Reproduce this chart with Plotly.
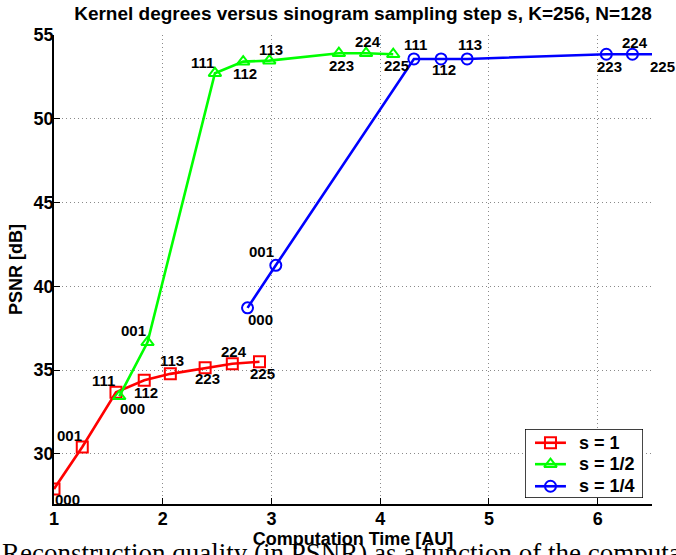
import plotly.graph_objects as go

# ---- data ----
labels = ["000", "001", "111", "112", "113", "223", "224", "225"]

time_s1 = [1.00, 1.26, 1.57, 1.83, 2.07, 2.39, 2.64, 2.89]
psnr_s1 = [27.9, 30.4, 33.67, 34.39, 34.77, 35.13, 35.37, 35.49]

time_s2 = [1.60, 1.86, 2.48, 2.74, 2.98, 3.62, 3.87, 4.12]
psnr_s2 = [33.43, 36.65, 52.72, 53.41, 53.47, 53.91, 53.91, 53.85]

time_s4 = [2.78, 3.04, 4.31, 4.56, 4.80, 6.08, 6.32, 6.57]
psnr_s4 = [38.71, 41.25, 53.57, 53.57, 53.57, 53.85, 53.85, 53.85]

series_names = ["s = 1", "s = 1/2", "s = 1/4"]

x_ticks = [1, 2, 3, 4, 5, 6]
y_ticks = [30, 35, 40, 45, 50, 55]

title_text = "Kernel degrees versus sinogram sampling step s, K=256, N=128"
x_title = "Computation Time [AU]"
y_title = "PSNR [dB]"
caption = "Reconstruction quality (in PSNR) as a function of the computation time"

# ---- styles ----
X_RANGE = [1, 6.5]
Y_RANGE = [27, 55]
colors = ["#ff0000", "#00ff00", "#0000ff"]
symbols = ["square-open", "triangle-up-open", "circle-open"]

# label pixel offsets (dx, dy) for each label; dy>0 means downwards
off_s1 = [(13, 11), (-13, -12), (-12, -12), (2, 12), (2, -13), (2, 11), (2, -12), (3, 12)]
off_s2 = [(13, 12), (-14, -12), (-12, -11), (2, 12), (2, -11), (3, 12), (2, -12), (3, 11)]
off_s4 = [(13, 12), (-14, -14), (2, -14), (3, 11), (3, -14), (3, 12), (3, -12), (3, 12)]

FONT = "Liberation Sans, Arial, Helvetica, sans-serif"
MARKER_SIZE = 11
LINE_W = 2.6

# legend box (in paper fractions of the plot area) and row layout inside it
LEG_X = [0.7876, 0.985]
LEG_Y = [0.0128, 0.160]
LEG_ROWS = [0.80, 0.49, 0.17]
LEG_LINE = [0.085, 0.347]
LEG_TEXT_X = 0.44

fig = go.Figure()
series = [(time_s1, psnr_s1, off_s1), (time_s2, psnr_s2, off_s2), (time_s4, psnr_s4, off_s4)]
for (xs, ys, _), name, c, sym in zip(series, series_names, colors, symbols):
    fig.add_trace(go.Scatter(
        x=xs, y=ys, name=name, mode="lines+markers", showlegend=False,
        line=dict(color=c, width=LINE_W),
        marker=dict(symbol=sym, size=MARKER_SIZE, color=c, line=dict(color=c, width=2)),
    ))

# legend samples drawn in a small overlay subplot
annotations = []
for name, c, sym, ry in zip(series_names, colors, symbols, LEG_ROWS):
    fig.add_trace(go.Scatter(
        x=LEG_LINE, y=[ry, ry], mode="lines", showlegend=False, hoverinfo="skip",
        line=dict(color=c, width=LINE_W), xaxis="x2", yaxis="y2"))
    fig.add_trace(go.Scatter(
        x=[sum(LEG_LINE) / 2], y=[ry], mode="markers", showlegend=False, hoverinfo="skip",
        marker=dict(symbol=sym, size=MARKER_SIZE, color=c, line=dict(color=c, width=2)),
        xaxis="x2", yaxis="y2"))
    annotations.append(dict(
        x=LEG_TEXT_X, y=ry, xref="x2", yref="y2", text=name, showarrow=False,
        xanchor="left", yanchor="middle",
        font=dict(family=FONT, size=18, color="black", weight="bold")))

for xs, ys, offs in series:
    for xv, yv, lab, (dx, dy) in zip(xs, ys, labels, offs):
        if X_RANGE[0] <= xv <= X_RANGE[1]:
            xref, xpos = "x", xv
        else:
            xref, xpos = "paper", (xv - X_RANGE[0]) / (X_RANGE[1] - X_RANGE[0])
        annotations.append(dict(
            x=xpos, y=yv, xref=xref, yref="y", text=lab, showarrow=False,
            xshift=dx, yshift=-dy, xanchor="center", yanchor="middle",
            font=dict(family=FONT, size=15, color="black", weight="bold"),
        ))

annotations.append(dict(
    x=-0.09, y=0, xref="paper", yref="paper", text=caption, showarrow=False,
    xanchor="left", yanchor="top", yshift=-32,
    font=dict(family="Liberation Serif, Times New Roman, serif", size=27, color="black"),
))

axis_common = dict(
    showline=True, linecolor="black", linewidth=1.5,
    ticks="inside", ticklen=6, tickcolor="black", tickwidth=1.2,
    showgrid=True, gridcolor="#8a8a8a", gridwidth=1, griddash="1px,3px",
    zeroline=False, mirror=False, automargin=False,
    tickfont=dict(family=FONT, size=18, color="black", weight="bold"),
)

fig.update_layout(
    width=676, height=555,
    margin=dict(l=54, r=24, t=35, b=51),
    paper_bgcolor="white", plot_bgcolor="white",
    title=dict(text=title_text, x=0.537, xref="container", xanchor="center",
               y=1 - 13 / 555, yref="container", yanchor="middle",
               font=dict(family=FONT, size=19, color="black", weight="bold"),
               automargin=False),
    xaxis=dict(range=X_RANGE, tickvals=x_ticks, ticklabelstandoff=-2,
               title=dict(text=x_title, standoff=0,
                          font=dict(family=FONT, size=18, color="black", weight="bold")),
               **axis_common),
    yaxis=dict(range=Y_RANGE, tickvals=y_ticks, ticklabelstandoff=-5,
               title=dict(text=y_title, standoff=6,
                          font=dict(family=FONT, size=18, color="black", weight="bold")),
               **axis_common),
    xaxis2=dict(domain=LEG_X, range=[0, 1], anchor="y2", visible=False, fixedrange=True),
    yaxis2=dict(domain=LEG_Y, range=[0, 1], anchor="x2", visible=False, fixedrange=True),
    shapes=[dict(type="rect", xref="x2", yref="y2", x0=0, x1=1, y0=0, y1=1,
                 fillcolor="white", line=dict(color="black", width=1.5), layer="below")],
    annotations=annotations,
    showlegend=False,
)

fig.write_html("out.html")
